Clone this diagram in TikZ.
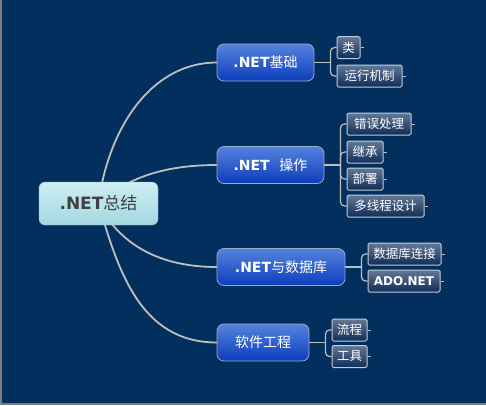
\documentclass[tikz,border=0pt]{standalone}
\usepackage{fontspec}
\setmainfont{DejaVu Sans}
\newfontfamily\cjk{Noto Sans CJK SC}
\usepackage{tikz}
\usetikzlibrary{calc}
\definecolor{MMNavy}{RGB}{3,47,95}
\definecolor{MMFrame}{RGB}{125,125,125}
\definecolor{MMLine}{RGB}{190,190,190}
\definecolor{MMRootTop}{RGB}{205,238,243}
\definecolor{MMRootBot}{RGB}{165,215,226}
\definecolor{MMRootEdge}{RGB}{140,190,205}
\definecolor{MMBlueTop}{RGB}{85,130,222}
\definecolor{MMBlueMid}{RGB}{8,70,200}
\definecolor{MMBlueBot}{RGB}{12,62,188}
\definecolor{MMBlueEdge}{RGB}{150,170,205}
\definecolor{MMLeafTop}{RGB}{100,120,150}
\definecolor{MMLeafBot}{RGB}{15,45,88}
\definecolor{MMLeafEdge}{RGB}{195,205,215}

\newcommand{\zh}[1]{{\cjk\mdseries #1}}

\begin{document}
\begin{tikzpicture}[x=1pt, y=-1pt,
          root/.style={rectangle, rounded corners=6, draw=MMRootEdge,
                       top color=MMRootTop, bottom color=MMRootBot,
                       text=black!75, inner sep=0, minimum width=119,
                       minimum height=43,
                       font=\fontsize{17}{19}\selectfont\bfseries},
          topic/.style={rectangle, rounded corners=7, draw=MMBlueEdge,
                        line width=0.8, top color=MMBlueTop,
                        middle color=MMBlueMid, bottom color=MMBlueBot,
                        text=white, inner sep=0, minimum height=37,
                        font=\fontsize{14}{16}\selectfont\bfseries},
          leaf/.style={rectangle, rounded corners=1.5, draw=MMLeafEdge,
                       line width=1, top color=MMLeafTop,
                       bottom color=MMLeafBot, text=white, inner sep=0,
                       minimum height=22,
                       font=\fontsize{12.5}{14}\selectfont\cjk},
          cv/.style={MMLine, line width=1.8},
          br/.style={MMLine, line width=1.2, rounded corners=4}
        ]
        \useasboundingbox (0,0) rectangle (486,405);
        \fill[MMNavy] (0,0) rectangle (486,405);
        \draw[MMFrame, line width=2] (1,0) -- (1,404) -- (486,404);

        % Curved branches (behind the root)
        \coordinate (O) at (98.5,203.5);
        \draw[cv] (O) .. controls (108,130) and (150,62.5) .. (217,62.5);
        \draw[cv] (O) .. controls (130,175) and (170,165) .. (217,165);
        \draw[cv] (O) .. controls (120,245) and (160,267) .. (217,267);
        \draw[cv] (O) .. controls (118,270) and (140,342.5) .. (217,342.5);

        % Root
        \node[root] (R) at (O) {.NET\zh{总结}};

        % Main topics
        \node[topic, minimum width=97] (A) at (265.5,62.5) {.NET\zh{基础}};
        \node[topic, minimum width=107] (B) at (270.5,165)
              {.NET\hspace{0.7em}\zh{操作}};
        \node[topic, minimum width=128] (C) at (281,267)
              {.NET\zh{与数据库}};
        \node[topic, minimum width=92] (D) at (263,342.5) {\zh{软件工程}};

        % Subtopics
        \foreach \i/\x/\y/\w/\t in {
          A1/348.5/47.5/23/类, A2/369.5/76/65/运行机制,
          B1/379/124/64/错误处理, B2/365/152/36/继承,
          B3/365/179/36/部署, B4/385.5/206/77/多线程设计,
          C1/404.5/254/73/数据库连接,
          D1/349.5/330/35/流程, D2/349.5/356.5/35/工具} {
          \node[leaf, minimum width=\w] (\i) at (\x, \y) {\t};
        }
        \node[leaf, minimum width=72, font=\fontsize{12}{14}\selectfont\bfseries]
              (C2) at (404,281) {ADO.NET};

        % Brackets from topics to subtopics
        \foreach \p/\kids in {A/{A1,A2}, B/{B1,B2,B3,B4}, C/{C1,C2}, D/{D1,D2}} {
          \coordinate (j\p) at ($(\p1.west |- \p.east)+(-6,0)$);
          \draw[br] (\p.east) -- (j\p);
          \foreach \k in \kids {
            \draw[br] (j\p) |- (\k.west);
            \draw[MMLine, line width=1] (\k.east) -- ++(3.5,0);
          }
        }
      \end{tikzpicture}
\end{document}
